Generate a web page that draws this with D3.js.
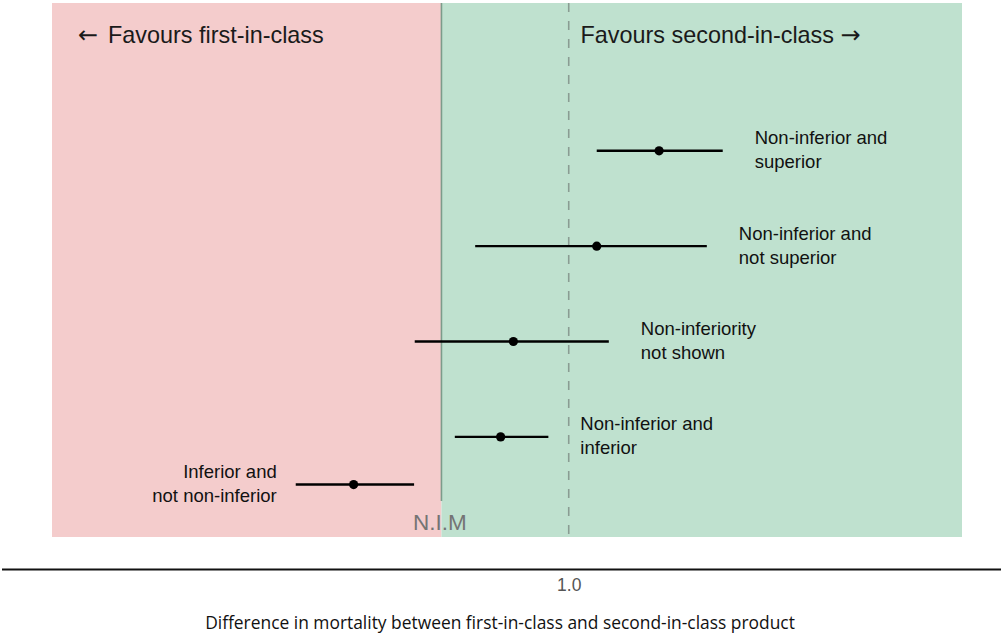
<!DOCTYPE html>
<html>
<head>
<meta charset="utf-8">
<script src="https://cdn.jsdelivr.net/npm/d3@7"></script>
<style>
  html, body { margin: 0; padding: 0; background: #fff; }
  svg { display: block; }
</style>
</head>
<body>
<svg id="chart" width="1001" height="635"></svg>
<script>
// Non-inferiority trial outcomes: point estimate and confidence interval per scenario
const outcomes = [
  "Non-inferior and\nsuperior",
  "Non-inferior and\nnot superior",
  "Non-inferiority\nnot shown",
  "Non-inferior and\ninferior",
  "Inferior and\nnot non-inferior"
];
const estimates = [1.142, 1.044, 0.913, 0.893, 0.662];
const lowerCI   = [1.044, 0.853, 0.758, 0.821, 0.571];
const upperCI   = [1.242, 1.217, 1.063, 0.968, 0.757];
const rowOrder  = [1, 2, 3, 4, 4.5];

const nimValue  = 0.8;   // non-inferiority margin
const nullValue = 1.0;   // no difference
const tickValues = [1.0];
const tickLabels = ["1.0"];
const leftHeader = "Favours first-in-class";
const rightHeader = "Favours second-in-class";
const nimLabel = "N.I.M";
const axisTitle = "Difference in mortality between first-in-class and second-in-class product";

const svg = d3.select("#chart");
const sans = "'Liberation Sans', Arial, sans-serif";
const arrowFont = "'DejaVu Sans', sans-serif";

const x = d3.scaleLinear().domain([0.188, 1.618]).range([52, 962]);
const y = d3.scaleLinear().domain([-0.55, 5.05]).range([3, 537]);
const [xMin, xMax] = x.domain();
const [yTop, yBottom] = y.domain();

// shaded regions either side of the margin
svg.append("rect")
  .attr("x", x(xMin)).attr("y", y(yTop))
  .attr("width", x(nimValue) - x(xMin)).attr("height", y(yBottom) - y(yTop))
  .attr("fill", "#f4cccc");
svg.append("rect")
  .attr("x", x(nimValue)).attr("y", y(yTop))
  .attr("width", x(xMax) - x(nimValue)).attr("height", y(yBottom) - y(yTop))
  .attr("fill", "#bfe1cf");

// margin line and null line
svg.append("line")
  .attr("x1", x(nimValue)).attr("x2", x(nimValue))
  .attr("y1", y(yTop)).attr("y2", 501)
  .attr("stroke", "#7c9c8b").attr("stroke-width", 1.6);
svg.append("line")
  .attr("x1", x(nullValue)).attr("x2", x(nullValue))
  .attr("y1", y(yTop)).attr("y2", y(yBottom))
  .attr("stroke", "#8a9c93").attr("stroke-width", 1.6)
  .attr("stroke-dasharray", "9,9");

svg.append("text")
  .attr("x", x(nimValue) - 1.5).attr("y", 530)
  .attr("text-anchor", "middle")
  .attr("font-family", sans).attr("font-size", 22.5)
  .attr("fill", "#747474")
  .text(nimLabel);

// direction headers
const lh = svg.append("text")
  .attr("x", 78).attr("y", 43)
  .attr("font-family", sans).attr("font-size", 23.4).attr("fill", "#1a1a1a");
lh.append("tspan").attr("font-family", arrowFont).attr("font-size", 24).text("\u2190");
lh.append("tspan").attr("x", 108).text(leftHeader);

const rh = svg.append("text")
  .attr("x", 580.5).attr("y", 43)
  .attr("font-family", sans).attr("font-size", 23.4).attr("fill", "#1a1a1a");
rh.append("tspan").text(rightHeader + " ");
rh.append("tspan").attr("font-family", arrowFont).attr("font-size", 24).text("\u2192");

// intervals and estimates
const rows = outcomes.map((label, i) => ({
  label, est: estimates[i], lo: lowerCI[i], hi: upperCI[i], pos: rowOrder[i]
}));

const g = svg.append("g");
g.selectAll("line.ci").data(rows).join("line")
  .attr("class", "ci")
  .attr("x1", d => x(d.lo)).attr("x2", d => x(d.hi))
  .attr("y1", d => y(d.pos)).attr("y2", d => y(d.pos))
  .attr("stroke", "#000").attr("stroke-width", 2.4);
g.selectAll("circle.est").data(rows).join("circle")
  .attr("class", "est")
  .attr("cx", d => x(d.est)).attr("cy", d => y(d.pos))
  .attr("r", 4.6).attr("fill", "#000");

g.selectAll("text.lab").data(rows).join("text")
  .attr("class", "lab")
  .attr("font-family", sans).attr("font-size", 18.5).attr("fill", "#111")
  .attr("text-anchor", d => d.hi < nimValue ? "end" : "start")
  .attr("x", d => d.hi < nimValue ? x(d.lo) - 19 : x(d.hi) + 32)
  .attr("y", d => y(d.pos) - 6.5)
  .each(function(d) {
    const t = d3.select(this);
    d.label.split("\n").forEach((line, j) => {
      t.append("tspan").attr("x", t.attr("x")).attr("dy", j === 0 ? 0 : 24).text(line);
    });
  });

// horizontal axis
svg.append("line")
  .attr("x1", 2).attr("x2", 1001).attr("y1", 569.5).attr("y2", 569.5)
  .attr("stroke", "#111").attr("stroke-width", 2.2);

const axis = d3.axisBottom(x)
  .tickValues(tickValues)
  .tickFormat((d, i) => tickLabels[i])
  .tickSize(0).tickPadding(0);
const axisG = svg.append("g").attr("transform", "translate(0,591)").call(axis);
axisG.select(".domain").remove();
axisG.selectAll("text")
  .attr("dy", 0).attr("y", 0)
  .attr("font-family", sans).attr("font-size", 17.5).attr("fill", "#555");

svg.append("text")
  .attr("x", 500).attr("y", 629)
  .attr("text-anchor", "middle")
  .attr("font-family", "'Open Sans', 'Noto Sans', sans-serif").attr("font-size", 17.4)
  .attr("fill", "#111")
  .text(axisTitle);
</script>
</body>
</html>
